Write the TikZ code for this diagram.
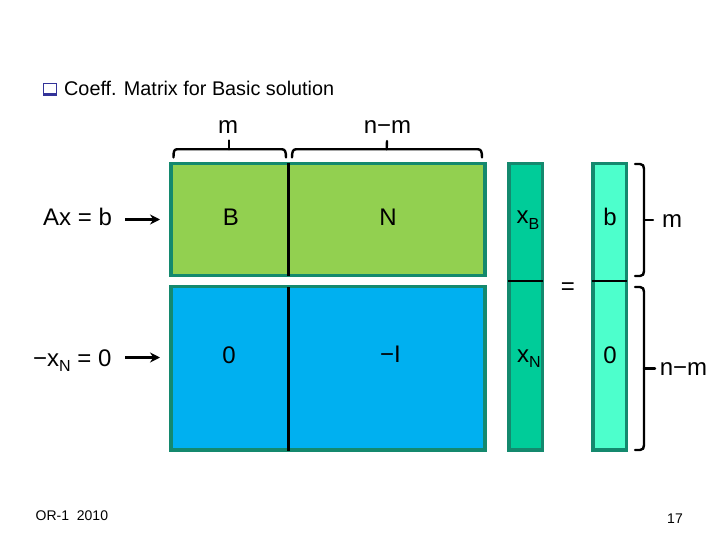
\documentclass[tikz,border=0pt]{standalone}
\usepackage{fontspec}
\setmainfont{Liberation Sans}
\usetikzlibrary{arrows.meta}
\definecolor{panelgreen}{HTML}{92D050}
\definecolor{panelblue}{HTML}{00B0F0}
\definecolor{colx}{HTML}{00CC99}
\definecolor{colb}{HTML}{4DFFCC}
\definecolor{edgeteal}{HTML}{14896E}
\definecolor{bulletblue}{HTML}{333399}
\newcommand{\fsz}[1]{\fontsize{#1}{#1}\selectfont}
\newcommand{\subs}[1]{\raisebox{-5.5pt}{\fsz{16}#1}}
\tikzset{
  panel/.style={draw=edgeteal,line width=3.2pt,line join=miter},
  rule/.style={draw=black,line width=2.6pt},
  thinrule/.style={draw=black,line width=2pt},
  brace/.style={draw=black,line width=2.4pt,line join=round,line cap=round},
  label/.style={inner sep=0pt,font=\fsz{24},text=black},
  feed/.style={draw=black,line width=2.4pt,-{Stealth[length=10pt,width=10pt]}},
  small/.style={inner sep=0pt,font=\fsz{14},text=black,anchor=base}
}
\begin{document}
\begin{tikzpicture}[x=1pt,y=-1pt]
\useasboundingbox (0,0) rectangle (720,540);
% panels
\path[panel,fill=panelgreen] (171,163.5) rectangle (485,275.5);
\path[panel,fill=panelblue] (171,286.5) rectangle (485,450);
\path[panel,fill=colx] (509,163.5) rectangle (542.5,450);
\path[panel,fill=colb] (593,163.5) rectangle (626.5,450);
\path[rule] (288.5,163) -- (288.5,276);
\path[rule] (288.5,287) -- (288.5,451);
\path[thinrule] (508,281.3) -- (543,281.3);
\path[thinrule] (592,281.3) -- (627,281.3);
% title
\path[draw=bulletblue,fill=white,line width=1pt] (43.5,83.2) rectangle (56.5,95);
\path[draw=bulletblue,line width=2.4pt] (43.2,94.6) -- (57,94.6);
\node[inner sep=0pt,anchor=base west,font=\fsz{19.8},text=black] (title) at (64,95.5) {Coeff. Matrix for Basic solution};
% top braces
\node[label,anchor=base] (tm) at (228,134) {m};
\node[label,anchor=base] (tnm) at (387.5,134) {n−m};
\path[brace] (173.5,157.5) .. controls (173.5,151.5) and (174,149.3) .. (177,149.3) -- (282,149.3) .. controls (285,149.3) and (286,151.5) .. (286,157.5);
\path[brace] (229,149.3) -- (229,140.5);
\path[brace] (292,157.5) .. controls (292,151.5) and (293,149.3) .. (296,149.3) -- (478,149.3) .. controls (481,149.3) and (482,151.5) .. (482,157.5);
\path[brace] (386.7,149.3) -- (387,141);
% left labels and arrows
\node[label,anchor=base west] (ax) at (43,225.7) {Ax = b};
\node[label,anchor=base west] (xn) at (33,366) {−x\subs{N} = 0};
\coordinate (axstart) at (125,219.5);
\coordinate (axend) at (160,219.5);
\coordinate (xnstart) at (125,357.5);
\coordinate (xnend) at (160,357.5);
\draw[feed] (axstart) -- (axend);
\draw[feed] (xnstart) -- (xnend);
% cell labels
\node[label,anchor=base] (B) at (231,225.7) {B};
\node[label,anchor=base] (N) at (388,225.7) {N};
\node[label,anchor=base west] (xB) at (516.5,224) {x\subs{B}};
\node[label,anchor=base] (bb) at (610,225.7) {b};
\node[label,anchor=base] (zero) at (229,363.3) {0};
\node[label,anchor=base] (mI) at (390.5,362.7) {−I};
\node[label,anchor=base west] (xNN) at (517,362) {x\subs{N}};
\node[label,anchor=base] (zerob) at (610,363.3) {0};
\node[label,anchor=base] (eq) at (568,294.5) {=};
% right braces
\path[brace] (635,164) -- (640,164) .. controls (643,164) and (644,166) .. (644,169) -- (644,271) .. controls (644,274) and (643,276) .. (640,276) -- (635,276);
\path[brace] (644,220) -- (653,220);
\node[label,anchor=base] (rm) at (672,227.7) {m};
\path[brace] (635,287) -- (640,287) .. controls (643,287) and (644,289) .. (644,292) -- (644,445) .. controls (644,448) and (643,450) .. (640,450) -- (635,450);
\path[brace] (644,368.3) -- (655,368.3);
\node[label,anchor=base] (rnm) at (683.5,375) {n−m};
% footer
\node[small,anchor=base west] (foot) at (35.5,520.7) {OR-1\ \ 2010};
\node[small] (page) at (675,523.3) {17};
\end{tikzpicture}
\end{document}
